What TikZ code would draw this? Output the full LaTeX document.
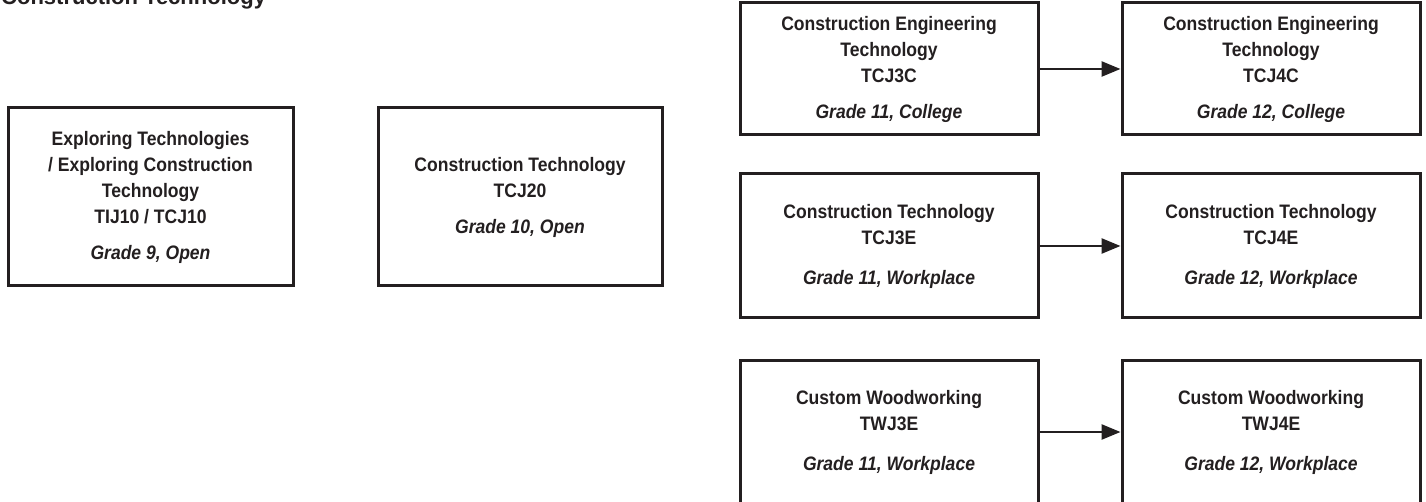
\documentclass[tikz,border=0pt]{standalone}
\usepackage{fontspec}
\setmainfont{Liberation Sans}[FakeStretch=0.9]
\newfontfamily\titlefont{Liberation Sans}
\usetikzlibrary{arrows.meta}
\definecolor{ink}{HTML}{231F20}
\begin{document}
\begin{tikzpicture}[x=1pt,y=-1pt,
  box/.style={draw=ink, line width=3pt, text=ink, align=center, inner sep=0pt,
    font=\fontsize{19.5}{26}\selectfont\bfseries},
  colbox/.style={box, minimum width=298pt},
  arr/.style={draw=ink, line width=2.6pt, -{Triangle[length=19pt,width=15pt]}}]
\useasboundingbox (0,0) rectangle (1426,502);
\clip (0,0) rectangle (1426,502);

\node[anchor=base west, inner sep=0pt, text=ink,
  font=\titlefont\bfseries\fontsize{22}{26}\selectfont] (title) at (1,5) {Construction Technology};

\node[box, minimum width=285pt, minimum height=178pt] (A) at (150.5,197)
  {Exploring Technologies\\/ Exploring Construction\\Technology\\TIJ10 / TCJ10\\[10pt]\textit{Grade 9, Open}};
\node[box, minimum width=284pt, minimum height=178pt] (B) at (520,197)
  {Construction Technology\\TCJ20\\[10pt]\textit{Grade 10, Open}};

\node[colbox, minimum height=132pt] (C) at (889,69)
  {Construction Engineering\\Technology\\TCJ3C\\[10pt]\textit{Grade 11, College}};
\node[colbox, minimum height=132pt] (D) at (1271,69)
  {Construction Engineering\\Technology\\TCJ4C\\[10pt]\textit{Grade 12, College}};

\node[colbox, minimum height=144pt] (E) at (889,246)
  {Construction Technology\\TCJ3E\\[14pt]\textit{Grade 11, Workplace}};
\node[colbox, minimum height=144pt] (F) at (1271,246)
  {Construction Technology\\TCJ4E\\[14pt]\textit{Grade 12, Workplace}};

\node[colbox, minimum height=144pt] (G) at (889,432)
  {Custom Woodworking\\TWJ3E\\[14pt]\textit{Grade 11, Workplace}};
\node[colbox, minimum height=144pt] (H) at (1271,432)
  {Custom Woodworking\\TWJ4E\\[14pt]\textit{Grade 12, Workplace}};

\draw[arr] (C.east) -- (D.west);
\draw[arr] (E.east) -- (F.west);
\draw[arr] (G.east) -- (H.west);
\end{tikzpicture}
\end{document}
